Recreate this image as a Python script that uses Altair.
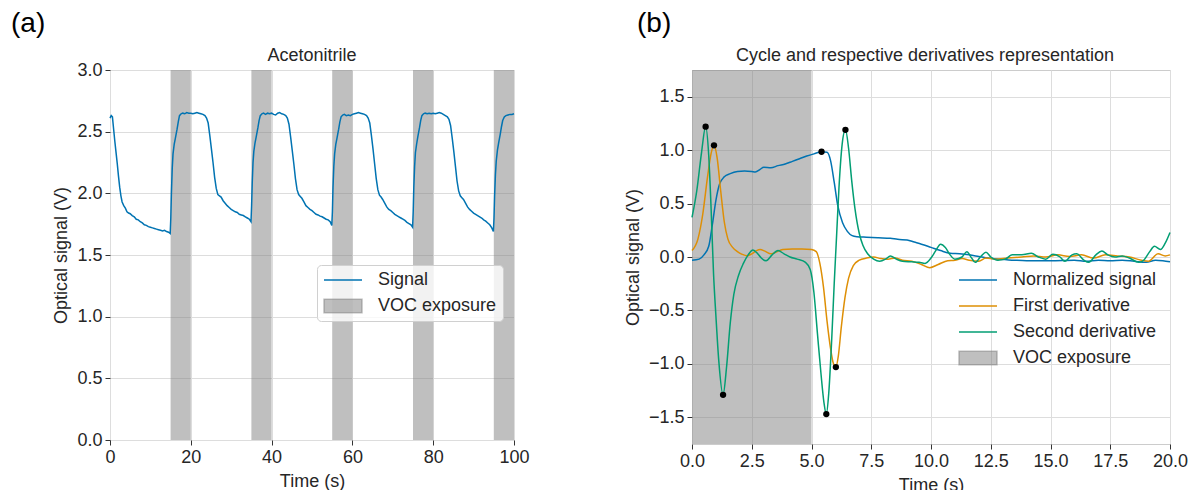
import altair as alt
import pandas as pd

FONT = "Liberation Sans"
TXT = "#262626"

# ---------------- Panel (a): Acetonitrile ----------------
A_TIME = [
    0.0, 0.3, 0.6, 0.9, 1.2, 1.5, 1.8, 2.1, 2.4, 2.7, 3.0, 3.4, 3.8, 4.2, 4.6, 5.0, 5.5, 6.0, 6.5, 7.0,
    7.5, 8.0, 8.5, 9.0, 9.5, 10.0, 10.5, 11.0, 11.5, 12.0, 12.5, 13.0, 13.5, 14.0, 14.5, 14.9,
    15.05, 15.2, 15.4, 15.6, 15.9, 16.2, 16.6, 16.9, 17.2, 17.6, 18.0, 18.5, 19.0, 19.5, 20.0, 20.5,
    21.0, 21.5, 22.0, 22.5, 23.0, 23.5, 23.9, 24.3, 24.7, 25.1, 25.5, 25.9, 26.3, 26.7, 27.1, 27.5,
    28.0, 28.5, 29.0, 29.5, 30.0, 30.5, 31.0, 31.5, 32.0, 32.5, 33.0, 33.5, 34.0, 34.5, 34.9,
    35.05, 35.2, 35.4, 35.6, 35.9, 36.2, 36.6, 36.9, 37.2, 37.6, 38.0, 38.5, 39.0, 39.5, 40.0, 40.5,
    41.0, 41.5, 42.0, 42.5, 43.0, 43.5, 43.9, 44.3, 44.7, 45.1, 45.5, 45.9, 46.3, 46.7, 47.1, 47.5,
    48.0, 48.5, 49.0, 49.5, 50.0, 50.5, 51.0, 51.5, 52.0, 52.5, 53.0, 53.5, 54.0, 54.5, 54.9,
    55.05, 55.2, 55.4, 55.6, 55.9, 56.2, 56.6, 56.9, 57.2, 57.6, 58.0, 58.5, 59.0, 59.5, 60.0, 60.5,
    61.0, 61.5, 62.0, 62.5, 63.0, 63.5, 63.9, 64.3, 64.7, 65.1, 65.5, 65.9, 66.3, 66.7, 67.1, 67.5,
    68.0, 68.5, 69.0, 69.5, 70.0, 70.5, 71.0, 71.5, 72.0, 72.5, 73.0, 73.5, 74.0, 74.5, 74.9,
    75.05, 75.2, 75.4, 75.6, 75.9, 76.2, 76.6, 76.9, 77.2, 77.6, 78.0, 78.5, 79.0, 79.5, 80.0, 80.5,
    81.0, 81.5, 82.0, 82.5, 83.0, 83.5, 83.9, 84.3, 84.7, 85.1, 85.5, 85.9, 86.3, 86.7, 87.1, 87.5,
    88.0, 88.5, 89.0, 89.5, 90.0, 90.5, 91.0, 91.5, 92.0, 92.5, 93.0, 93.5, 94.0, 94.5, 94.9,
    95.05, 95.2, 95.4, 95.6, 95.9, 96.2, 96.6, 96.9, 97.2, 97.6, 98.0, 98.5, 99.0, 99.5, 100.0,
]
A_SIGNAL = [
    2.61, 2.63, 2.62, 2.52, 2.42, 2.33, 2.24, 2.14, 2.05, 1.98, 1.93, 1.90, 1.88, 1.85, 1.84, 1.835, 1.82, 1.81, 1.79, 1.785,
    1.77, 1.76, 1.745, 1.74, 1.73, 1.725, 1.72, 1.715, 1.71, 1.705, 1.70, 1.695, 1.70, 1.69, 1.685, 1.675,
    1.80, 2.00, 2.20, 2.32, 2.40, 2.45, 2.52, 2.58, 2.63, 2.645, 2.65, 2.645, 2.655, 2.65, 2.65, 2.645,
    2.65, 2.655, 2.65, 2.645, 2.64, 2.63, 2.61, 2.57, 2.47, 2.36, 2.25, 2.13, 2.04, 1.99, 1.98, 1.97,
    1.94, 1.92, 1.90, 1.885, 1.87, 1.86, 1.85, 1.845, 1.83, 1.825, 1.82, 1.81, 1.80, 1.79, 1.77,
    1.90, 2.08, 2.25, 2.34, 2.41, 2.46, 2.53, 2.59, 2.63, 2.645, 2.65, 2.64, 2.65, 2.645, 2.65, 2.64,
    2.635, 2.65, 2.655, 2.645, 2.64, 2.63, 2.61, 2.56, 2.46, 2.35, 2.24, 2.12, 2.03, 1.99, 1.975, 1.96,
    1.93, 1.90, 1.885, 1.87, 1.86, 1.845, 1.83, 1.825, 1.815, 1.81, 1.80, 1.79, 1.785, 1.77, 1.74,
    1.85, 2.05, 2.22, 2.32, 2.40, 2.45, 2.52, 2.58, 2.62, 2.635, 2.64, 2.63, 2.635, 2.63, 2.64, 2.645,
    2.65, 2.655, 2.65, 2.645, 2.64, 2.63, 2.61, 2.57, 2.47, 2.36, 2.24, 2.12, 2.03, 1.985, 1.97, 1.95,
    1.92, 1.89, 1.87, 1.86, 1.845, 1.83, 1.82, 1.81, 1.80, 1.79, 1.78, 1.765, 1.755, 1.745, 1.725,
    1.85, 2.05, 2.22, 2.33, 2.40, 2.46, 2.53, 2.59, 2.63, 2.645, 2.65, 2.645, 2.65, 2.645, 2.65, 2.645,
    2.65, 2.655, 2.65, 2.64, 2.63, 2.62, 2.60, 2.55, 2.45, 2.34, 2.22, 2.10, 2.02, 1.98, 1.965, 1.95,
    1.92, 1.89, 1.87, 1.855, 1.84, 1.83, 1.82, 1.81, 1.80, 1.785, 1.775, 1.76, 1.745, 1.72, 1.69,
    1.80, 1.98, 2.15, 2.26, 2.35, 2.41, 2.48, 2.54, 2.59, 2.62, 2.63, 2.635, 2.64, 2.64, 2.645,
]
A_BAND_START = [15, 35, 55, 75, 95]
A_BAND_END = [20, 40, 60, 80, 100]
A_SERIES = ["Signal", "VOC exposure"]
A_COLORS = ["#0173b2", "rgba(128,128,128,0.5)"]
A_XTICKS = [0, 20, 40, 60, 80, 100]
A_YTICKS = [0.0, 0.5, 1.0, 1.5, 2.0, 2.5, 3.0]
A_TITLE = "Acetonitrile"

# ---------------- Panel (b): cycle and derivatives ----------------
B_T_NORM = [0, 0.3, 0.5, 0.7, 0.85, 1.0, 1.15, 1.35, 1.6, 1.9, 2.2, 2.5, 2.65, 2.85, 3.0, 3.3, 3.6, 3.9,
            4.2, 4.5, 4.8, 5.1, 5.42, 5.65, 5.8, 5.95, 6.1, 6.3, 6.5, 6.7, 6.9, 7.3, 7.8, 8.3, 8.6, 9.0,
            9.3, 9.6, 10.0, 10.4, 10.8, 11.2, 11.6, 12.0, 12.4, 12.9, 13.5, 14.0, 15.0, 16.0, 16.5, 17.0,
            17.5, 18.0, 18.5, 19.0, 19.4, 19.7, 20.0]
B_NORM = [-0.03, -0.02, 0.02, 0.10, 0.30, 0.53, 0.68, 0.75, 0.78, 0.80, 0.805, 0.80, 0.795, 0.82, 0.84,
          0.835, 0.855, 0.87, 0.895, 0.92, 0.945, 0.965, 0.985, 0.98, 0.90, 0.70, 0.48, 0.32, 0.24, 0.20,
          0.19, 0.185, 0.18, 0.175, 0.165, 0.16, 0.14, 0.12, 0.09, 0.06, 0.035, 0.03, 0.02, 0.005, -0.01,
          -0.02, -0.03, -0.035, -0.035, -0.03, -0.04, -0.03, -0.035, -0.03, -0.04, -0.05, -0.03, -0.035,
          -0.045]
B_T_D1 = [0, 0.25, 0.45, 0.65, 0.8, 0.92, 1.05, 1.2, 1.35, 1.5, 1.7, 1.9, 2.1, 2.3, 2.5, 2.7, 2.85, 3.05,
          3.3, 3.5, 3.8, 4.2, 4.6, 5.0, 5.2, 5.35, 5.5, 5.65, 5.8, 5.92, 6.02, 6.12, 6.25, 6.4, 6.55, 6.75,
          7.0, 7.3, 7.6, 7.9, 8.2, 8.5, 8.8, 9.2, 9.6, 9.95, 10.3, 10.7, 11.0, 11.3, 11.6, 12.0, 12.3,
          12.7, 13.2, 13.8, 14.3, 14.8, 15.3, 15.8, 16.3, 16.8, 17.3, 17.8, 18.3, 18.8, 19.1, 19.5, 19.8,
          20.0]
B_D1 = [0.06, 0.17, 0.40, 0.75, 0.97, 1.045, 0.93, 0.62, 0.33, 0.17, 0.09, 0.05, 0.025, 0.012, 0.03,
        0.06, 0.07, 0.055, 0.03, 0.045, 0.07, 0.075, 0.075, 0.07, 0.05, -0.06, -0.28, -0.60, -0.86, -1.0,
        -1.03, -0.93, -0.65, -0.38, -0.20, -0.08, -0.03, -0.01, 0.0, -0.015, -0.02, -0.01, -0.03, -0.04,
        -0.07, -0.10, -0.07, -0.035, -0.03, -0.015, -0.03, -0.04, -0.01, -0.02, -0.01, 0.0, 0.01, 0.0,
        0.02, 0.005, 0.02, -0.01, 0.02, 0.01, 0.0, -0.03, -0.04, 0.03, 0.01, 0.02]
B_T_D2 = [0, 0.2, 0.4, 0.57, 0.7, 0.8, 0.9, 1.0, 1.12, 1.3, 1.45, 1.6, 1.75, 1.95, 2.15, 2.35, 2.55, 2.75,
          2.9, 3.1, 3.35, 3.6, 3.85, 4.1, 4.4, 4.75, 4.95, 5.1, 5.25, 5.4, 5.52, 5.62, 5.72, 5.85, 5.95,
          6.05, 6.15, 6.28, 6.42, 6.55, 6.68, 6.82, 7.0, 7.15, 7.35, 7.6, 7.85, 8.1, 8.3, 8.55, 8.8, 9.2,
          9.5, 9.75, 10.0, 10.2, 10.4, 10.6, 10.8, 11.0, 11.3, 11.5, 11.7, 11.85, 12.1, 12.3, 12.5, 12.8,
          13.1, 13.4, 13.8, 14.2, 14.5, 14.8, 15.1, 15.4, 15.6, 15.9, 16.1, 16.4, 16.6, 16.9, 17.15, 17.4,
          17.7, 18.0, 18.3, 18.7, 18.9, 19.15, 19.35, 19.6, 19.8, 20.0]
B_D2 = [0.37, 0.62, 0.98, 1.22, 0.95, 0.45, -0.15, -0.55, -0.97, -1.29, -1.02, -0.62, -0.35, -0.17, -0.06,
        0.02, 0.065, 0.03, -0.01, -0.035, 0.02, 0.06, 0.03, 0.0, -0.02, -0.05, -0.12, -0.33, -0.72, -1.10,
        -1.36, -1.47, -1.28, -0.75, -0.25, 0.2, 0.65, 1.05, 1.19, 1.02, 0.72, 0.45, 0.22, 0.11, 0.03,
        -0.02, -0.04, -0.02, 0.01, -0.02, -0.04, -0.045, -0.05, -0.06, -0.01, 0.06, 0.12, 0.09, 0.02,
        -0.02, 0.0, 0.05, -0.01, -0.05, 0.01, 0.045, 0.0, -0.03, -0.02, 0.02, 0.02, 0.035, 0.0, -0.02,
        0.025, 0.0, -0.04, 0.02, 0.03, -0.03, -0.05, 0.02, 0.055, 0.02, 0.0, 0.01, -0.01, -0.05, -0.03,
        0.05, 0.10, 0.07, 0.13, 0.23]
B_PT_T = [0.57, 0.92, 1.3, 5.42, 5.62, 6.02, 6.42]
B_PT_V = [1.22, 1.045, -1.29, 0.985, -1.47, -1.03, 1.19]
B_BAND_START = [0]
B_BAND_END = [5]
B_SERIES = ["Normalized signal", "First derivative", "Second derivative", "VOC exposure"]
B_COLORS = ["#0173b2", "#de8f05", "#029e73", "rgba(128,128,128,0.5)"]
B_XTICKS = [0, 2.5, 5, 7.5, 10, 12.5, 15, 17.5, 20]
B_YTICKS = [-1.5, -1.0, -0.5, 0.0, 0.5, 1.0, 1.5]
B_TITLE = "Cycle and respective derivatives representation"

SYM_EXPR = "datum.value === 'VOC exposure' ? 'M-1,-0.35L1,-0.35L1,0.35L-1,0.35Z' : 'stroke'"


def make_legend(lx, ly, framed):
    kw = dict(
        title=None, orient="none", legendX=lx, legendY=ly,
        symbolType=alt.ExprRef(expr=SYM_EXPR), symbolSize=1444, symbolStrokeWidth=1.5,
        clipHeight=18, rowPadding=8, labelOffset=15,
        labelFont=FONT, labelFontSize=18, labelColor=TXT, labelLimit=300,
    )
    if framed:
        kw.update(fillColor="rgba(255,255,255,0.8)", strokeColor="#d0d0d0", cornerRadius=4, padding=6)
    else:
        kw.update(padding=0)
    return alt.Legend(**kw)


def text_layer(text, x, y, size, align):
    return alt.Chart(pd.DataFrame({"label": [text]})).mark_text(
        font=FONT, fontSize=size, align=align, baseline="alphabetic",
        color="#000000" if size > 20 else TXT,
    ).encode(x=alt.value(x), y=alt.value(y), text="label:N")


# ---- panel (a) ----
df_a = pd.DataFrame({"t": A_TIME, "v": A_SIGNAL, "series": "Signal"})
df_band_a = pd.DataFrame({"start": A_BAND_START, "end": A_BAND_END, "series": "VOC exposure"})

xs_a = alt.Scale(domain=[0, 100], nice=False)
ax_ax = alt.Axis(values=A_XTICKS, format="d", labelFlush=False)
color_a = alt.Color("series:N", scale=alt.Scale(domain=A_SERIES, range=A_COLORS),
                    legend=make_legend(207, 195, True))

bands_a = alt.Chart(df_band_a).mark_rect().encode(
    x=alt.X("start:Q", title="Time (s)", scale=xs_a, axis=ax_ax),
    x2="end:Q",
    color=color_a,
)
line_a = alt.Chart(df_a).mark_line(strokeWidth=1.5).encode(
    x=alt.X("t:Q", title="Time (s)", scale=xs_a, axis=ax_ax),
    y=alt.Y("v:Q", title="Optical signal (V)", scale=alt.Scale(domain=[0, 3], nice=False),
            axis=alt.Axis(values=A_YTICKS, format=".1f", labelFlush=False)),
    color=color_a,
)

panel_a = alt.layer(
    bands_a, line_a,
    text_layer("(a)", -99, -38, 28, "left"),
    text_layer(A_TITLE, 202, -9, 18, "center"),
).properties(width=404, height=370)

# ---- panel (b) ----
df_b = pd.concat([
    pd.DataFrame({"t": B_T_NORM, "v": B_NORM, "series": "Normalized signal"}),
    pd.DataFrame({"t": B_T_D1, "v": B_D1, "series": "First derivative"}),
    pd.DataFrame({"t": B_T_D2, "v": B_D2, "series": "Second derivative"}),
], ignore_index=True)
df_band_b = pd.DataFrame({"start": B_BAND_START, "end": B_BAND_END, "series": "VOC exposure"})
df_pts = pd.DataFrame({"t": B_PT_T, "v": B_PT_V})

xs_b = alt.Scale(domain=[0, 20], nice=False)
ys_b = alt.Scale(domain=[-1.75, 1.75], nice=False)
ax_bx = alt.Axis(values=B_XTICKS, format=".1f", labelFlush=False)
ax_by = alt.Axis(values=B_YTICKS, format=".1f", labelFlush=False)
color_b = alt.Color("series:N", scale=alt.Scale(domain=B_SERIES, range=B_COLORS),
                    legend=make_legend(266, 201, False))

bands_b = alt.Chart(df_band_b).mark_rect().encode(
    x=alt.X("start:Q", title="Time (s)", scale=xs_b, axis=ax_bx),
    x2="end:Q",
    color=color_b,
)
lines_b = alt.Chart(df_b).mark_line(strokeWidth=1.5, interpolate="monotone").encode(
    x=alt.X("t:Q", title="Time (s)", scale=xs_b, axis=ax_bx),
    y=alt.Y("v:Q", title="Optical signal (V)", scale=ys_b, axis=ax_by),
    color=color_b,
)
pts_b = alt.Chart(df_pts).mark_circle(size=40, color="#000000", opacity=1).encode(
    x=alt.X("t:Q", scale=xs_b), y=alt.Y("v:Q", scale=ys_b)
)

panel_b = alt.layer(
    bands_b, lines_b, pts_b,
    text_layer("(b)", -55, -38, 28, "left"),
    text_layer(B_TITLE, 233, -9, 18, "center"),
).properties(width=478, height=374)

chart = alt.hconcat(panel_a, panel_b, spacing=93).resolve_scale(color="independent").properties(
    padding={"left": 10, "top": 9, "right": 5, "bottom": 5}, background="white"
).configure_view(stroke="#cccccc", strokeWidth=1).configure_axis(
    domain=False, grid=True, gridColor="#dddddd", gridWidth=1,
    ticks=True, tickColor="#333333", tickSize=5, tickWidth=1,
    labelFont=FONT, labelFontSize=18, labelColor=TXT, labelPadding=3,
    titleFont=FONT, titleFontSize=18, titleFontWeight="normal", titleColor=TXT, titlePadding=6,
)

chart.save("out.html", embed_options={"renderer": "svg", "actions": False})
